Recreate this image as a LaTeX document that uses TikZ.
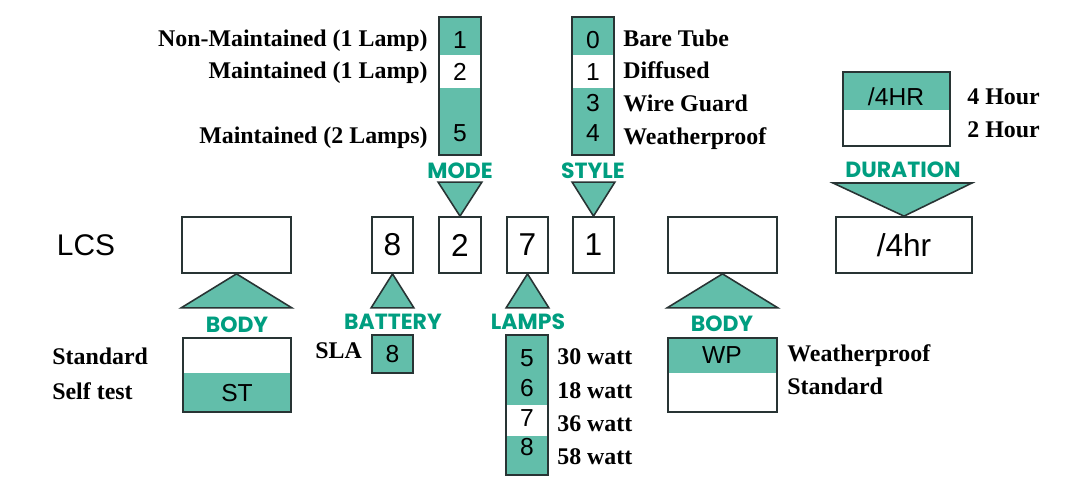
\documentclass[tikz,border=0pt]{standalone}
\usepackage{fontspec}
\setmainfont{Liberation Serif}
\setsansfont{Liberation Sans}
\newfontfamily\tagfont{Poppins}
\usetikzlibrary{positioning}
\definecolor{tealf}{RGB}{98,190,170}
\definecolor{tealt}{RGB}{0,158,128}
\definecolor{edgec}{RGB}{40,52,52}
\begin{document}
\begin{tikzpicture}[x=0.02cm, y=-0.02cm,
    frame/.style={draw=edgec, line width=1pt},
    band/.style={fill=tealf},
    cell/.style={font=\sffamily\fontsize{14}{14}\selectfont, inner sep=0pt},
    code/.style={draw=edgec, line width=1pt, inner sep=0pt, minimum height=1.12cm,
      font=\sffamily\fontsize{18}{18}\selectfont},
    tri/.style={fill=tealf, draw=edgec, line width=0.9pt, line join=miter},
    tag/.style={font=\tagfont\bfseries\fontsize{12.5}{12.5}\selectfont, text=tealt, inner sep=0pt},
    desc/.style={font=\bfseries\fontsize{13.6}{15}\selectfont, inner sep=0pt, yshift=-0.05cm},
  ]
  \path[use as bounding box] (0,0) rectangle (1079,483);

  % code row
  \node[font=\sffamily\fontsize{17}{17}\selectfont, inner sep=0pt] (lcs) at (86,245) {LCS};
  \node[code, minimum width=2.18cm] (bodya) at (236.5,245) {};
  \node[code, minimum width=0.82cm] (bat) at (392.5,245) {8};
  \node[code, minimum width=0.84cm] (mode) at (460,245) {2};
  \node[code, minimum width=0.82cm] (lamp) at (527.5,245) {7};
  \node[code, minimum width=0.82cm] (style) at (593.5,245) {1};
  \node[code, minimum width=2.18cm] (bodyb) at (722.5,245) {};
  \node[code, minimum width=2.72cm] (dur) at (904,245) {/4hr};

  % pointers under the code row
  \filldraw[tri] (bodya.south) -- ([yshift=-0.68cm]bodya.south east) -- ([yshift=-0.68cm]bodya.south west) -- cycle;
  \filldraw[tri] (bat.south) -- ([yshift=-0.68cm]bat.south east) -- ([yshift=-0.68cm]bat.south west) -- cycle;
  \filldraw[tri] (lamp.south) -- ([yshift=-0.68cm]lamp.south east) -- ([yshift=-0.68cm]lamp.south west) -- cycle;
  \filldraw[tri] (bodyb.south) -- ([yshift=-0.68cm]bodyb.south east) -- ([yshift=-0.68cm]bodyb.south west) -- cycle;
  % pointers above the code row
  \filldraw[tri] (mode.north) -- ([yshift=0.68cm]mode.north east) -- ([yshift=0.68cm]mode.north west) -- cycle;
  \filldraw[tri] (style.north) -- ([yshift=0.68cm]style.north east) -- ([yshift=0.68cm]style.north west) -- cycle;
  \filldraw[tri] (dur.north) -- (972,183) -- (833,183) -- cycle;

  % group names
  \node[tag] (tmode) at (460,171) {MODE};
  \node[tag] (tstyle) at (593,171) {STYLE};
  \node[tag] (tdur) at (903,170) {DURATION};
  \node[tag] (tbodya) at (237,325) {BODY};
  \node[tag] (tbat) at (393,322) {BATTERY};
  \node[tag] (tlamp) at (528,322) {LAMPS};
  \node[tag] (tbodyb) at (722,324) {BODY};

  % mode
  \fill[band] (439,17) rectangle (481,55);
  \fill[band] (439,88) rectangle (481,155);
  \draw[frame] (439,17) rectangle (481,155);
  \node[cell] (m1) at (460,40) {1};
  \node[cell] (m2) at (460,72) {2};
  \node[cell] (m5) at (460,133) {5};
  \node[desc, anchor=mid east] at (428,40) {Non-Maintained (1 Lamp)};
  \node[desc, anchor=mid east] at (428,72) {Maintained (1 Lamp)};
  \node[desc, anchor=mid east] at (428,137) {Maintained (2 Lamps)};

  % style
  \fill[band] (572,17) rectangle (614,55);
  \fill[band] (572,88) rectangle (614,155);
  \draw[frame] (572,17) rectangle (614,155);
  \node[cell] (s0) at (593,40) {0};
  \node[cell] (s1) at (593,72) {1};
  \node[cell] (s3) at (593,103) {3};
  \node[cell] (s4) at (593,133) {4};
  \node[desc, anchor=mid west] at (623,40) {Bare Tube};
  \node[desc, anchor=mid west] at (623,72) {Diffused};
  \node[desc, anchor=mid west] at (623,105) {Wire Guard};
  \node[desc, anchor=mid west] at (623,138) {Weatherproof};

  % duration
  \fill[band] (843,72) rectangle (950,110);
  \draw[frame] (843,72) rectangle (950,146);
  \node[cell] (d4) at (896,97) {/4HR};
  \node[desc, anchor=mid west] at (967,98) {4 Hour};
  \node[desc, anchor=mid west] at (967,131) {2 Hour};

  % body, left
  \fill[band] (183,373) rectangle (291,412);
  \draw[frame] (183,338) rectangle (291,412);
  \node[cell] (st) at (237,393) {ST};
  \node[desc, anchor=mid west] at (52,358) {Standard};
  \node[desc, anchor=mid west] at (52,393) {Self test};

  % battery
  \filldraw[band, frame] (372,335) rectangle (413,373);
  \node[cell] (b8) at (392.5,354) {8};
  \node[desc, anchor=mid west] at (315,352) {SLA};

  % lamps
  \fill[band] (506,335) rectangle (548,405);
  \fill[band] (506,436) rectangle (548,475);
  \draw[frame] (506,335) rectangle (548,475);
  \node[cell] (l5) at (527,358) {5};
  \node[cell] (l6) at (527,388) {6};
  \node[cell] (l7) at (527,418) {7};
  \node[cell] (l8) at (527,447) {8};
  \node[desc, anchor=mid west] at (557,358) {30 watt};
  \node[desc, anchor=mid west] at (557,392) {18 watt};
  \node[desc, anchor=mid west] at (557,425) {36 watt};
  \node[desc, anchor=mid west] at (557,458) {58 watt};

  % body, right
  \fill[band] (668,338) rectangle (777,373);
  \draw[frame] (668,338) rectangle (777,412);
  \node[cell] (wp) at (722,355) {WP};
  \node[desc, anchor=mid west] at (787,355) {Weatherproof};
  \node[desc, anchor=mid west] at (787,388) {Standard};
\end{tikzpicture}
\end{document}
